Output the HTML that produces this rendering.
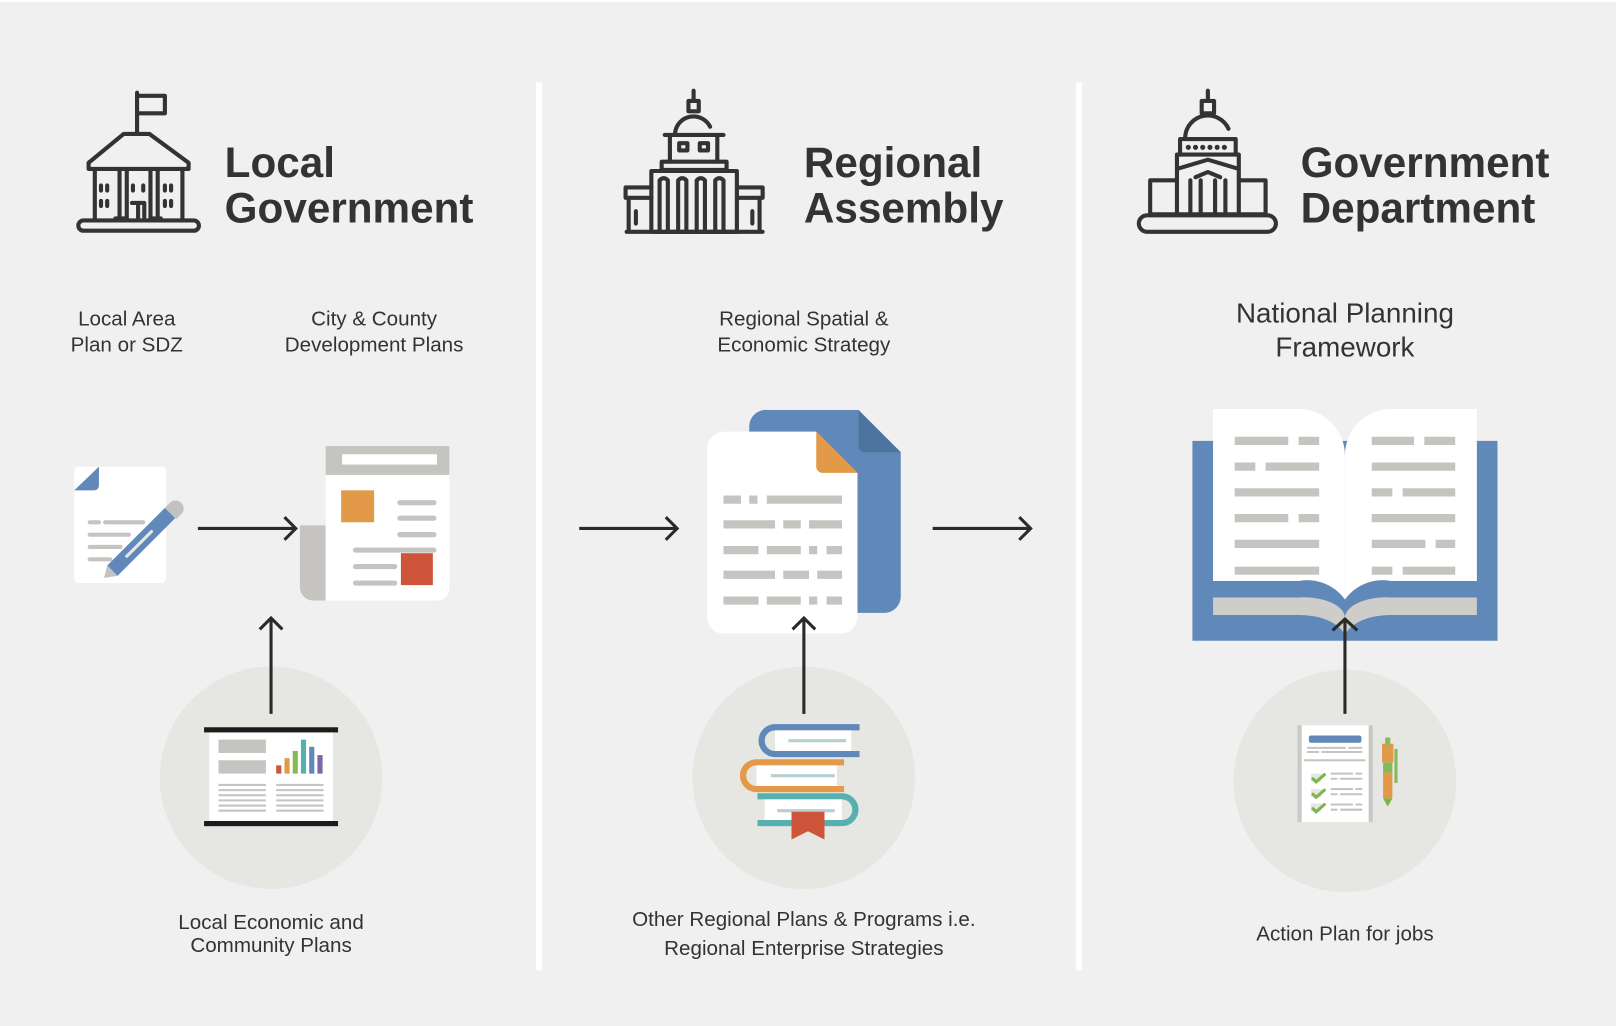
<!DOCTYPE html>
<html><head><meta charset="utf-8"><style>
html,body{margin:0;padding:0;background:#f0f0f0;}
svg{display:block}
text{font-family:"Liberation Sans",sans-serif;fill:#333}
</style></head><body>
<svg width="1616" height="1026" viewBox="0 0 1568 996" preserveAspectRatio="none" xmlns="http://www.w3.org/2000/svg">
<rect x="0" y="0" width="1568" height="996" fill="#f0f0f0"/>
<rect x="0" y="0" width="1568" height="2" fill="#fff"/>
<rect x="520" y="80" width="6" height="862" fill="#fff"/>
<rect x="1044" y="80" width="6" height="862" fill="#fff"/>

<!-- Local gov icon -->
<g fill="none" stroke="#333" stroke-width="4" stroke-linecap="round" stroke-linejoin="round">
<path d="M133 128 V90 M133 93 h27 v17 h-27"/>
<path d="M120 130 h25 l38 28 v6 h-97 v-6 z"/>
<path d="M92 166 v48 M177 166 v48 M116 166 v48 M123 166 v48 M146 166 v48 M153 166 v48"/>
<rect x="76" y="214" width="117" height="10" rx="5"/>
<path d="M98 180v5M104 180v5M98 195v5M104 195v5M129 180v5M139 180v5M160 180v5M166 180v5M160 195v5M166 195v5"/>
<path d="M128 197 h12 v14 M134 197v17 M112 212h10 M146 212h10"/>
</g>
<text x="218" y="172" font-size="41" font-weight="bold">Local</text>
<text x="218" y="216" font-size="41" font-weight="bold">Government</text>

<!-- Regional icon -->
<g fill="none" stroke="#333" stroke-width="4" stroke-linecap="round" stroke-linejoin="round">
<path d="M673 88 v10 M668 98 h10 v10 h-10z"/>
<path d="M655 129 a18 18 0 0 1 34 -6"/>
<path d="M645 131 h57 M650 131 v26 M696 131 v26"/>
<rect x="659" y="139" width="8" height="7"/><rect x="679" y="139" width="8" height="7"/>
<path d="M642 157 h63 v8 h-63z"/>
<path d="M632 166 h83 v59 h-83z"/>
<path d="M640 225 v-50 q4 -4 8 0 v50 M658 225 v-50 q4 -4 8 0 v50 M676 225 v-50 q4 -4 8 0 v50 M694 225 v-50 q4 -4 8 0 v50"/>
<path d="M632 182 h-25 v10 h25 M715 182 h25 v10 h-25 M610 192 v33 h22 M737 192 v33 h-22 M617 205v12 M730 205v12 M608 225 h132"/>
</g>
<text x="780" y="172" font-size="41" font-weight="bold">Regional</text>
<text x="780" y="216" font-size="41" font-weight="bold">Assembly</text>

<!-- Gov dept icon -->
<g fill="none" stroke="#333" stroke-width="4" stroke-linecap="round" stroke-linejoin="round">
<path d="M1172 88 v10 M1166 98 h12 v12 h-12z"/>
<path d="M1150 133 a22 22 0 0 1 42 -8"/>
<path d="M1145 135 h54 M1145 135 v15 M1199 135 v15"/>
<path d="M1153 143h0M1160 143h0M1167 143h0M1174 143h0M1181 143h0M1188 143h0" stroke-width="5"/>
<path d="M1142 150 h60 v58 h-60z M1142 164 l30 -9 l30 9 M1160 172 l12 -5 l12 5"/>
<path d="M1155 175v33M1165 175v33M1179 175v33M1189 175v33"/>
<path d="M1142 175 h-26 v33 h26 M1202 175 h26 v33 h-26"/>
<rect x="1105" y="209" width="133" height="16" rx="8"/>
</g>
<text x="1262" y="172" font-size="41" font-weight="bold">Government</text>
<text x="1262" y="216" font-size="41" font-weight="bold">Department</text>

<!-- subtitles -->
<g font-size="20" text-anchor="middle">
<text x="123" y="316">Local Area</text><text x="123" y="341">Plan or SDZ</text>
<text x="363" y="316">City &amp; County</text><text x="363" y="341">Development Plans</text>
<text x="780" y="316">Regional Spatial &amp;</text><text x="780" y="341">Economic Strategy</text>
<text x="1305" y="313" font-size="27">National Planning</text><text x="1305" y="346" font-size="27">Framework</text>
<text x="263" y="902">Local Economic and</text><text x="263" y="924">Community Plans</text>
<text x="780" y="899">Other Regional Plans &amp; Programs i.e.</text><text x="780" y="927">Regional Enterprise Strategies</text>
<text x="1305" y="913">Action Plan for jobs</text>
</g>

<!-- circles -->
<circle cx="263" cy="755" r="108" fill="#e6e6e3"/>
<circle cx="780" cy="755" r="108" fill="#e6e6e3"/>
<circle cx="1305" cy="758" r="108" fill="#e6e6e3"/>

<!-- local area doc -->
<rect x="72" y="453" width="89" height="113" rx="4" fill="#fff"/>
<path d="M72 476 L96 453 V471 q0 5 -5 5z" fill="#6088b8"/>
<g stroke="#c5c4c0" stroke-width="4" stroke-linecap="round">
<path d="M87 507h9M102 507h37M87 519h38M87 531h30M87 543h20"/>
</g>
<path d="M104 549 L160 493 L170 503 L114 559z" fill="#6088b8"/>
<path d="M160 493 l6 -6 a8 8 0 0 1 11 11 l-6 6z" fill="#c2c2c2"/>
<path d="M104 549 l10 10 l-13 2z" fill="#c2c2c2"/>
<path d="M123 540 l24 -24" stroke="#e8e8e8" stroke-width="3" stroke-linecap="round"/>

<!-- city plan doc -->
<path d="M291 510 h25 v73 h-12 a13 13 0 0 1 -13 -13z" fill="#c5c4c0"/>
<path d="M316 433 h120 v138 a12 12 0 0 1 -12 12 h-108z" fill="#fff"/>
<rect x="316" y="433" width="120" height="28" fill="#c5c4c0"/>
<rect x="332" y="441" width="92" height="10" fill="#fff"/>
<rect x="331" y="476" width="32" height="31" fill="#e29a48"/>
<rect x="389" y="537" width="31" height="31" fill="#cf553a"/>
<g stroke="#c5c4c0" stroke-width="5" stroke-linecap="round">
<path d="M388 488h33M388 503h33M388 519h33M345 534h76M345 550h38M345 566h38"/>
</g>

<!-- regional doc -->
<path d="M745 398 h88 l41 41 v140 a16 16 0 0 1 -16 16 h-131 v-181 a16 16 0 0 1 18 -16z" fill="#6088b8"/>
<path d="M833 398 v35 a6 6 0 0 0 6 6 h35z" fill="#4d749e"/>
<path d="M703 419 h89 l40 40 v140 a16 16 0 0 1 -16 16 h-113 a16 16 0 0 1 -17 -16 v-163 a17 17 0 0 1 17 -17z" fill="#fff"/>
<path d="M792 419 v34 a6 6 0 0 0 6 6 h34z" fill="#e29a48"/>
<g stroke="#c5c4c0" stroke-width="8">
<path d="M702 485h17M727 485h8M744 485h73M702 509h50M760 509h17M785 509h32M702 534h34M744 534h33M785 534h8M802 534h15M702 558h50M760 558h25M793 558h24M702 583h34M744 583h33M785 583h8M802 583h15"/>
</g>

<!-- book -->
<rect x="1157" y="428" width="296" height="194" fill="#6088b8"/>
<path d="M1177 397 h83 a45 45 0 0 1 45 45 V582 a45 45 0 0 0 -45 -18 h-83z" fill="#fff"/>
<path d="M1433 397 h-83 a45 45 0 0 0 -45 45 V582 a45 45 0 0 1 45 -18 h83z" fill="#fff"/>
<path d="M1177 580 h83 a40 20 0 0 1 45 20 a40 20 0 0 1 45 -20 h83 v17 h-83 a45 25 0 0 0 -45 20 a45 25 0 0 0 -45 -20 h-83z" fill="#cfcdca"/>
<g stroke="#c5c4c0" stroke-width="8">
<path d="M1198 428h52M1260 428h20M1198 453h20M1228 453h52M1198 478h82M1198 503h52M1260 503h20M1198 528h82M1198 554h82"/>
<path d="M1331 428h41M1382 428h30M1331 453h81M1331 478h20M1361 478h51M1331 503h81M1331 528h52M1393 528h19M1331 554h20M1361 554h51"/>
</g>

<!-- presentation board -->
<rect x="203" y="710" width="120" height="90" fill="#fff"/>
<rect x="198" y="706" width="130" height="5" fill="#1c1c1c"/>
<rect x="198" y="797" width="130" height="5" fill="#1c1c1c"/>
<rect x="212" y="718" width="46" height="13" fill="#c5c4c0"/>
<rect x="212" y="738" width="46" height="13" fill="#c5c4c0"/>
<rect x="268" y="743" width="5" height="8" fill="#cf553a"/>
<rect x="276" y="736" width="5" height="15" fill="#e29a48"/>
<rect x="284" y="729" width="5" height="22" fill="#86b95a"/>
<rect x="292" y="718" width="5" height="33" fill="#56b0ae"/>
<rect x="300" y="725" width="5" height="26" fill="#6088b8"/>
<rect x="308" y="733" width="5" height="18" fill="#7c67a8"/>
<g stroke="#c5c4c0" stroke-width="2"><path d="M212 762h46M212 767h46M212 772h46M212 777h46M212 782h46M212 787h46M268 762h46M268 767h46M268 772h46M268 777h46M268 782h46M268 787h46"/></g>

<!-- books stack -->
<path d="M834 706 h-82 a13 13 0 0 0 0 26 h82" fill="none" stroke="#6088b8" stroke-width="6"/>
<rect x="752" y="709" width="74" height="20" fill="#fff"/>
<path d="M819 740 h-85 a13 13 0 0 0 0 26 h85" fill="none" stroke="#e29a48" stroke-width="6"/>
<rect x="734" y="743" width="78" height="20" fill="#fff"/>
<path d="M735 773 h82 a13 13 0 0 1 0 26 h-82" fill="none" stroke="#56b0ae" stroke-width="6"/>
<rect x="742" y="776" width="75" height="20" fill="#fff"/>
<g stroke="#b8cfcf" stroke-width="3"><path d="M765 719h56M748 753h62M754 787h56"/></g>
<path d="M768 788 h32 v27 l-16 -8 l-16 8z" fill="#cf553a"/>

<!-- checklist -->
<rect x="1259" y="704" width="73" height="94" fill="#c8c8c5"/>
<rect x="1263" y="704" width="65" height="94" fill="#fff"/>
<rect x="1270" y="714" width="51" height="7" rx="2" fill="#6088b8"/>
<g stroke="#c5c4c0" stroke-width="2" stroke-linecap="round"><path d="M1269 726h36M1309 726h12M1269 730h10M1283 730h38M1266 738h58M1292 751h20M1316 751h5M1292 756h5M1301 756h20M1292 766h20M1316 766h5M1292 771h5M1301 771h20M1292 781h20M1316 781h5M1292 786h5M1301 786h20"/></g>
<g fill="#e6e6e3"><rect x="1272" y="751" width="10" height="8"/><rect x="1272" y="766" width="10" height="8"/><rect x="1272" y="780" width="10" height="8"/></g>
<g fill="none" stroke="#7ab648" stroke-width="3" stroke-linecap="round"><path d="M1274 756l3 3l8 -7M1274 771l3 3l8 -7M1274 785l3 3l8 -7"/></g>
<rect x="1341" y="722" width="11" height="18" fill="#e29a48"/>
<rect x="1342" y="740" width="9" height="10" fill="#86b95a"/>
<rect x="1342" y="750" width="9" height="25" fill="#e29a48"/>
<path d="M1342 775 h9 l-4.5 8z" fill="#7ab648"/>
<rect x="1344" y="716" width="5" height="7" fill="#86b95a"/>
<rect x="1353" y="727" width="3" height="33" fill="#86b95a"/>

<!-- arrows -->
<g fill="none" stroke="#2a2a2a" stroke-width="3" stroke-linecap="butt">
<path d="M192 513 H287 M276 502 l11 11 l-11 11"/>
<path d="M562 513 H657 M646 502 l11 11 l-11 11"/>
<path d="M905 513 H1000 M989 502 l11 11 l-11 11"/>
<path d="M263 693 V600 M252 611 l11 -11 l11 11"/>
<path d="M780 693 V600 M769 611 l11 -11 l11 11"/>
<path d="M1305 693 V600 M1293 612 l12 -11 l12 11"/>
</g>
</svg>
</body></html>
